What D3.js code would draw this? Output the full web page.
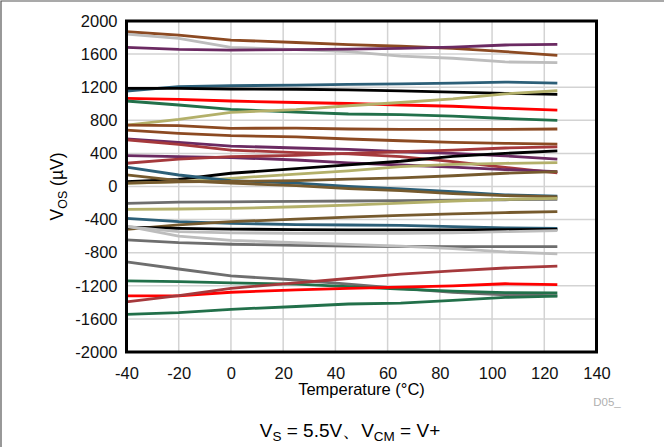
<!DOCTYPE html>
<html>
<head>
<meta charset="utf-8">
<script src="https://cdn.jsdelivr.net/npm/d3@7"></script>
<style>
  body { margin: 0; background: #fff; }
  svg { font-family: "Liberation Sans", Arial, sans-serif; }
  .axes-font text { font-size: 16.5px; fill: #111; }
</style>
</head>
<body>
<div id="vis"></div>
<script>
// temperatures where each unit was measured (°C)
const TEMPS = [-40, -20, 0, 25, 45, 65, 85, 105, 125];

// offset voltage per unit (µV)
const VOS_01 = [1870, 1830, 1770, 1740, 1715, 1695, 1670, 1630, 1585];
const VOS_02 = [1842, 1790, 1682, 1655, 1630, 1575, 1550, 1505, 1496];
const VOS_03 = [1682, 1657, 1649, 1655, 1660, 1670, 1685, 1710, 1718];
const VOS_04 = [1154, 1206, 1218, 1225, 1235, 1240, 1250, 1262, 1250];
const VOS_05 = [1186, 1186, 1178, 1175, 1168, 1155, 1140, 1125, 1114];
const VOS_06 = [1066, 1054, 1033, 1015, 1003, 985, 970, 945, 924];
const VOS_07 = [1033, 985, 932, 900, 876, 868, 850, 822, 800];
const VOS_08 = [743, 812, 896, 930, 976, 1015, 1060, 1120, 1157];
const VOS_09 = [742, 735, 703, 705, 695, 690, 690, 690, 695];
const VOS_10 = [682, 643, 614, 600, 574, 553, 534, 522, 513];
const VOS_11 = [574, 534, 489, 465, 449, 420, 400, 370, 332];
const VOS_12 = [565, 510, 440, 410, 395, 360, 300, 230, 165];
const VOS_13 = [373, 360, 350, 320, 285, 260, 235, 205, 180];
const VOS_14 = [281, 330, 360, 375, 400, 420, 440, 465, 480];
const VOS_15 = [58, 85, 160, 215, 262, 305, 365, 400, 430];
const VOS_16 = [38, 58, 99, 150, 190, 240, 268, 280, 288];
const VOS_17 = [233, 139, 70, 40, 0, -30, -62, -100, -118];
const VOS_18 = [141, 70, 40, 10, -25, -50, -85, -110, -125];
const VOS_19 = [40, 55, 62, 70, 90, 105, 130, 160, 180];
const VOS_20 = [-203, -190, -185, -180, -175, -170, -165, -160, -155];
const VOS_21 = [-276, -272, -265, -245, -225, -200, -175, -155, -143];
const VOS_22 = [-384, -425, -445, -460, -465, -470, -485, -500, -505];
const VOS_23 = [-517, -465, -425, -395, -370, -350, -330, -315, -304];
const VOS_24 = [-490, -505, -515, -520, -525, -525, -525, -522, -517];
const VOS_25 = [-485, -545, -560, -565, -565, -565, -560, -545, -534];
const VOS_26 = [-646, -679, -698, -710, -720, -725, -727, -727, -727];
const VOS_27 = [-480, -600, -650, -680, -700, -720, -750, -790, -815];
const VOS_28 = [-912, -997, -1081, -1130, -1180, -1230, -1280, -1310, -1320];
const VOS_29 = [-1141, -1150, -1165, -1180, -1210, -1240, -1265, -1283, -1286];
const VOS_30 = [-1322, -1322, -1278, -1250, -1232, -1215, -1200, -1175, -1187];
const VOS_31 = [-1394, -1320, -1230, -1165, -1112, -1060, -1020, -985, -962];
const VOS_32 = [-1546, -1525, -1484, -1450, -1420, -1410, -1375, -1340, -1325];

const SERIES = [VOS_01, VOS_02, VOS_03, VOS_04, VOS_05, VOS_06, VOS_07, VOS_08,
                VOS_09, VOS_10, VOS_11, VOS_12, VOS_13, VOS_14, VOS_15, VOS_16,
                VOS_17, VOS_18, VOS_19, VOS_20, VOS_21, VOS_22, VOS_23, VOS_24,
                VOS_25, VOS_26, VOS_27, VOS_28, VOS_29, VOS_30, VOS_31, VOS_32];

// axis ticks
const X_TICKS = [-40, -20, 0, 20, 40, 60, 80, 100, 120, 140];
const Y_TICKS = [-2000, -1600, -1200, -800, -400, 0, 400, 800, 1200, 1600, 2000];

// line colours, same order as SERIES
const BROWN = "#8c4a22", LGREY = "#bdbdbd", PURPLE = "#6b2a62", TEAL = "#2c5f78",
      RED = "#ff0000", GREEN = "#22704a", KHAKI = "#b3b06a", REDBROWN = "#a5393c",
      OLIVE = "#765a2e", GREY = "#6e6e6e", BLACK = "#000000";
const COLORS = [BROWN, LGREY, PURPLE, TEAL, BLACK, RED, GREEN, KHAKI,
                BROWN, BROWN, PURPLE, REDBROWN, PURPLE, REDBROWN, BLACK, KHAKI,
                TEAL, OLIVE, OLIVE, GREY, KHAKI, TEAL, OLIVE, BLACK,
                LGREY, GREY, LGREY, GREY, GREEN, RED, REDBROWN, GREEN];

const WIDTH = 664, HEIGHT = 447;
const PLOT = {left: 126.5, right: 596.5, top: 21, bottom: 352};

const FRAME = d3.select("#vis")
                .append("svg")
                .attr("width", WIDTH)
                .attr("height", HEIGHT);

// outer page border (top and left only)
FRAME.append("path")
     .attr("d", "M1,447 L1,1 L664,1")
     .attr("fill", "none")
     .attr("stroke", "#555")
     .attr("stroke-width", 1.2);

const X_SCALE = d3.scaleLinear()
                  .domain([-40, 140])
                  .range([PLOT.left, PLOT.right]);

const Y_SCALE = d3.scaleLinear()
                  .domain([-2000, 2000])
                  .range([PLOT.bottom, PLOT.top]);

// grid lines
FRAME.append("g")
     .selectAll("line")
     .data(X_TICKS)
     .enter().append("line")
     .attr("x1", d => X_SCALE(d)).attr("x2", d => X_SCALE(d))
     .attr("y1", PLOT.top).attr("y2", PLOT.bottom)
     .attr("stroke", "#d3d3d3")
     .attr("stroke-width", 1.5);

FRAME.append("g")
     .selectAll("line")
     .data(Y_TICKS)
     .enter().append("line")
     .attr("x1", PLOT.left).attr("x2", PLOT.right)
     .attr("y1", d => Y_SCALE(d)).attr("y2", d => Y_SCALE(d))
     .attr("stroke", "#d3d3d3")
     .attr("stroke-width", 1.5);

// the lines
const line = d3.line()
               .x((d, i) => X_SCALE(TEMPS[i]))
               .y(d => Y_SCALE(d));

FRAME.append("g")
     .selectAll("path")
     .data(SERIES)
     .enter().append("path")
     .attr("d", d => line(d))
     .attr("fill", "none")
     .attr("stroke", (d, i) => COLORS[i])
     .attr("stroke-width", 2.8)
     .attr("stroke-linejoin", "round");

// plot frame
FRAME.append("rect")
     .attr("x", PLOT.left).attr("y", PLOT.top)
     .attr("width", PLOT.right - PLOT.left)
     .attr("height", PLOT.bottom - PLOT.top)
     .attr("fill", "none")
     .attr("stroke", "#000")
     .attr("stroke-width", 3);

// axes (labels only, plain hyphen for negatives)
FRAME.append("g")
     .attr("transform", "translate(0," + PLOT.bottom + ")")
     .call(d3.axisBottom(X_SCALE).tickValues(X_TICKS).tickSize(0).tickPadding(15).tickFormat(d => String(d)))
     .attr("class", "axes-font")
     .call(g => g.select(".domain").remove())
     .selectAll("text").attr("font-family", null);

FRAME.append("g")
     .attr("transform", "translate(" + PLOT.left + ",0)")
     .call(d3.axisLeft(Y_SCALE).tickValues(Y_TICKS).tickSize(0).tickPadding(9).tickFormat(d => String(d)))
     .attr("class", "axes-font")
     .call(g => g.select(".domain").remove())
     .selectAll("text").attr("font-family", null);

// axis titles
FRAME.append("text")
     .attr("x", (PLOT.left + PLOT.right) / 2)
     .attr("y", 395)
     .attr("text-anchor", "middle")
     .attr("font-size", 16.5)
     .text("Temperature (°C)");

const yTitle = FRAME.append("text")
     .attr("transform", "translate(63," + ((PLOT.top + PLOT.bottom) / 2) + ") rotate(-90)")
     .attr("text-anchor", "middle")
     .attr("font-size", 17.5);
yTitle.append("tspan").text("V");
yTitle.append("tspan").attr("font-size", 12.5).attr("dy", 4).text("OS");
yTitle.append("tspan").attr("dy", -4).text(" (µV)");

// figure id
FRAME.append("text")
     .attr("x", 607)
     .attr("y", 406)
     .attr("text-anchor", "middle")
     .attr("font-size", 11.5)
     .attr("fill", "#b0b0b0")
     .text("D05_");

// condition caption
const cap = FRAME.append("text")
     .attr("x", 350)
     .attr("y", 437)
     .attr("text-anchor", "middle")
     .attr("font-size", 19);
cap.append("tspan").text("V");
cap.append("tspan").attr("font-size", 13.5).attr("dy", 4).text("S");
cap.append("tspan").attr("dy", -4).text(" = 5.5V、V");
cap.append("tspan").attr("font-size", 13.5).attr("dy", 4).text("CM");
cap.append("tspan").attr("dy", -4).text(" = V+");
</script>
</body>
</html>
